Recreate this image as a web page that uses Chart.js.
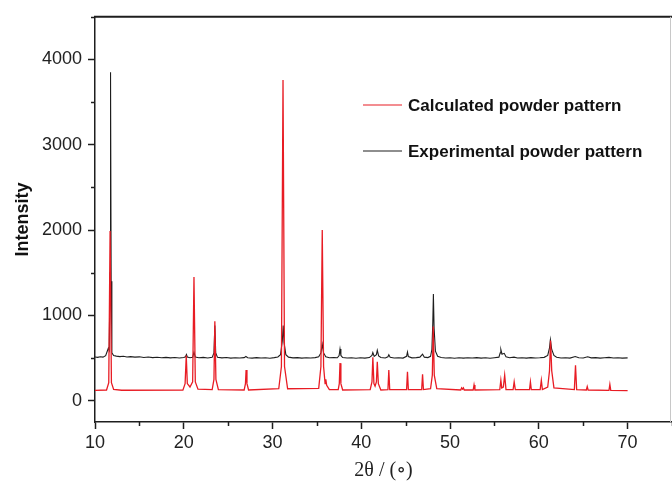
<!DOCTYPE html>
<html>
<head>
<meta charset="utf-8">
<script src="https://cdn.jsdelivr.net/npm/chart.js@4/dist/chart.umd.min.js"></script>
<style>
  html, body { margin: 0; padding: 0; background: #fff; }
  #wrap { width: 672px; height: 487px; }
</style>
</head>
<body>
<div id="wrap"><canvas id="xrd"></canvas></div>
<script>
const seriesNames = ['Calculated powder pattern', 'Experimental powder pattern'];

// [2theta, intensity]
const calculatedPoints = [
  [10.0,120],[11.3,125],[11.55,210],[11.7,1990],[11.85,210],[12.1,132],[13.0,122],
  [19.9,124],[20.15,200],[20.28,530],[20.4,200],[20.7,160],[21.0,220],[21.15,1450],[21.3,220],[21.6,135],
  [23.2,130],[23.4,250],[23.5,930],[23.62,250],[23.9,130],
  [26.8,125],[26.95,200],[27.02,360],[27.12,200],[27.3,125],
  [30.7,140],[31.0,400],[31.18,3760],[31.35,400],[31.7,140],
  [35.2,145],[35.45,400],[35.6,2000],[35.75,400],[35.92,200],[36.0,250],[36.1,180],[36.4,130],
  [37.4,130],[37.52,200],[37.6,440],[37.7,200],[37.9,125],
  [41.0,130],[41.2,220],[41.3,510],[41.42,200],[41.55,170],[41.7,220],[41.8,455],[41.92,200],[42.2,125],
  [43.0,130],[43.1,360],[43.2,130],
  [45.1,130],[45.2,340],[45.3,130],
  [46.8,130],[46.9,310],[47.0,130],
  [47.8,140],[48.0,300],[48.1,870],[48.22,300],[48.5,140],
  [51.2,125],[51.3,150],[51.4,135],[51.5,150],[51.6,125],
  [52.6,125],[52.7,185],[52.8,125],
  [55.6,130],[55.72,240],[55.82,150],[56.0,160],[56.15,300],[56.3,130],
  [57.1,130],[57.22,220],[57.35,130],
  [58.95,130],[59.05,220],[59.15,130],
  [60.15,130],[60.28,240],[60.4,130],
  [61.0,160],[61.2,350],[61.32,705],[61.45,350],[61.7,150],
  [64.0,130],[64.13,415],[64.26,130],
  [65.35,125],[65.45,165],[65.55,125],
  [67.9,120],[68.0,190],[68.1,120],[70.0,118]
];

const experimentalPoints = [
  [10.0,512],[10.3,508],[10.6,515],[10.9,510],[11.2,528],[11.4,585],[11.5,615],[11.6,590],[11.7,1500],[11.75,3850],[11.82,1400],[11.9,560],
  [12.1,530],[12.4,522],[12.8,516],[13.2,520],[13.6,512],[14.0,516],[14.5,510],[15.0,514],[15.5,506],[16.0,512],[16.5,505],[17.0,509],
  [17.5,503],[18.0,508],[18.5,502],[19.0,506],[19.5,500],[20.0,506],[20.2,515],[20.3,540],[20.4,512],[20.7,504],[21.0,510],[21.15,568],
  [21.3,512],[21.7,503],[22.2,507],[22.7,500],[23.2,508],[23.4,560],[23.5,880],[23.6,560],[23.8,508],[24.3,502],[24.8,506],[25.3,499],
  [25.8,504],[26.3,500],[26.8,505],[27.0,518],[27.2,504],[27.7,499],[28.2,505],[28.7,500],[29.2,503],[29.7,498],[30.2,505],[30.6,512],
  [30.9,540],[31.1,700],[31.2,880],[31.3,680],[31.5,540],[31.8,510],[32.3,502],[32.8,505],[33.3,499],[33.8,504],[34.3,500],[34.8,505],
  [35.2,515],[35.45,560],[35.6,660],[35.75,560],[36.0,515],[36.4,503],[36.9,506],[37.3,503],[37.5,530],[37.6,605],[37.7,530],[37.9,505],
  [38.4,500],[38.9,504],[39.4,498],[39.9,503],[40.4,499],[40.9,505],[41.2,530],[41.3,565],[41.45,520],[41.7,540],[41.8,590],[41.95,525],
  [42.2,506],[42.7,500],[43.0,515],[43.1,538],[43.25,510],[43.7,500],[44.2,504],[44.7,499],[45.1,520],[45.2,570],[45.3,518],[45.7,502],
  [46.2,505],[46.6,510],[46.9,545],[47.1,510],[47.5,505],[47.8,520],[47.95,600],[48.05,900],[48.12,1250],[48.2,850],[48.35,580],[48.6,520],
  [49.0,506],[49.5,500],[50.0,504],[50.5,498],[51.0,503],[51.5,499],[52.0,504],[52.5,500],[53.0,505],[53.5,499],[54.0,503],[54.5,498],
  [55.0,504],[55.5,510],[55.65,560],[55.72,600],[55.85,545],[56.1,555],[56.3,515],[56.7,504],[57.2,510],[57.6,500],[58.1,504],[58.6,499],
  [59.1,505],[59.6,500],[60.1,503],[60.6,508],[61.0,530],[61.2,620],[61.3,715],[61.45,600],[61.7,530],[62.0,510],[62.5,500],[63.0,504],
  [63.5,499],[64.1,518],[64.5,503],[65.0,500],[65.5,514],[65.9,502],[66.4,505],[66.9,499],[67.4,503],[67.9,508],[68.4,500],[68.9,504],
  [69.4,499],[70.0,502]
];

const xTicks = [10,20,30,40,50,60,70];
const xMinorTicks = [15,25,35,45,55,65,75];
const yTicks = [0,1000,2000,3000,4000];
const yMinorTicks = [500,1500,2500,3500,4500];

const RED = 'rgb(232, 28, 36)';
const INK = '#1e1e1e';

const frameAndLegend = {
  id: 'frameAndLegend',
  afterDraw(chart) {
    const { ctx, chartArea: a, scales } = chart;
    ctx.save();
    // top and right frame lines
    ctx.strokeStyle = INK;
    ctx.lineWidth = 2;
    ctx.beginPath();
    ctx.moveTo(a.left - 1, a.top);
    ctx.lineTo(a.right, a.top);
    ctx.stroke();
    ctx.strokeStyle = '#c8c8c8';
    ctx.lineWidth = 1;
    ctx.beginPath();
    ctx.moveTo(a.right - 1.5, a.top);
    ctx.lineTo(a.right - 1.5, a.bottom);
    ctx.stroke();

    // short minor ticks
    ctx.strokeStyle = INK;
    ctx.lineWidth = 1.5;
    xMinorTicks.forEach(v => {
      const px = Math.round(scales.x.getPixelForValue(v)) + 0.5;
      ctx.beginPath();
      ctx.moveTo(px, a.bottom);
      ctx.lineTo(px, a.bottom + 4);
      ctx.stroke();
    });
    yMinorTicks.forEach(v => {
      const py = Math.round(scales.y.getPixelForValue(v)) + 0.5;
      ctx.beginPath();
      ctx.moveTo(a.left, py);
      ctx.lineTo(a.left - 4, py);
      ctx.stroke();
    });

    // legend inside the plot
    const rows = [[RED, seriesNames[0], 105], [INK, seriesNames[1], 151]];
    ctx.font = 'bold 17px "Liberation Sans", Arial, sans-serif';
    ctx.textBaseline = 'middle';
    rows.forEach(([c, label, y]) => {
      ctx.strokeStyle = c;
      ctx.lineWidth = 1.2;
      ctx.beginPath();
      ctx.moveTo(363, y);
      ctx.lineTo(402, y);
      ctx.stroke();
      ctx.fillStyle = '#111';
      ctx.fillText(label, 408, y + 1);
    });
    ctx.restore();
  }
};

const tickFont = { family: '"Liberation Sans", Arial, sans-serif', size: 18 };

new Chart(document.getElementById('xrd'), {
  type: 'line',
  data: {
    datasets: [
      {
        label: seriesNames[0],
        data: calculatedPoints.map(([x, y]) => ({ x, y })),
        borderColor: RED,
        borderWidth: 1.3,
        pointRadius: 0,
        tension: 0
      },
      {
        label: seriesNames[1],
        data: experimentalPoints.map(([x, y]) => ({ x, y })),
        borderColor: INK,
        borderWidth: 1.1,
        pointRadius: 0,
        tension: 0
      }
    ]
  },
  options: {
    responsive: true,
    maintainAspectRatio: false,
    animation: false,
    layout: { padding: { top: 14, right: 0, left: 0, bottom: 0 } },
    plugins: {
      legend: { display: false },
      tooltip: { enabled: false }
    },
    scales: {
      x: {
        type: 'linear',
        min: 10,
        max: 75,
        afterBuildTicks: s => { s.ticks = xTicks.map(v => ({ value: v })); },
        afterFit: s => { s.height = 65; },
        ticks: { color: '#222', font: tickFont, padding: 3, maxRotation: 0, callback: v => String(v) },
        grid: { drawOnChartArea: false, drawTicks: true, tickLength: 7, color: INK, tickWidth: 1.5 },
        border: { display: true, color: INK, width: 1.5 },
        title: {
          display: true,
          text: '2θ / (∘)',
          color: '#222',
          font: { family: '"Liberation Serif", "DejaVu Serif", serif', size: 20 },
          padding: { top: 2 }
        }
      },
      y: {
        min: -250,
        max: 4500,
        afterBuildTicks: s => { s.ticks = yTicks.map(v => ({ value: v })); },
        afterFit: s => { s.width = 95; },
        ticks: { color: '#222', font: tickFont, padding: 6, callback: v => String(v) },
        grid: { drawOnChartArea: false, drawTicks: true, tickLength: 7, color: INK, tickWidth: 1.5 },
        border: { display: true, color: INK, width: 1.5 },
        title: {
          display: true,
          text: 'Intensity',
          color: '#111',
          font: { family: '"Liberation Sans", Arial, sans-serif', size: 18, weight: 'bold' },
          padding: { top: 12, bottom: 0 }
        }
      }
    }
  },
  plugins: [frameAndLegend]
});
</script>
</body>
</html>
